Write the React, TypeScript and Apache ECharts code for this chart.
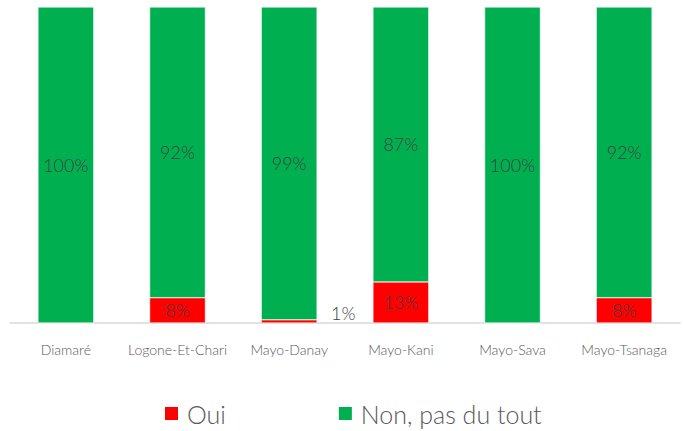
import React, { useEffect, useRef } from "react";
import * as echarts from "echarts";

const categories = ["Diamaré", "Logone-Et-Chari", "Mayo-Danay", "Mayo-Kani", "Mayo-Sava", "Mayo-Tsanaga"];
const ouiValues = [0, 8, 1, 13, 0, 8];
const nonValues = [100, 92, 99, 87, 100, 92];
const seriesNames = ["Oui", "Non, pas du tout"];

const FONT = "Lato, 'Open Sans', sans-serif";

export default function App() {
  const ref = useRef<HTMLDivElement>(null);
  useEffect(() => {
    if (!ref.current) return;
    const chart = echarts.init(ref.current, null, { renderer: "svg" });
    const labelStyle = {
      show: true,
      position: "inside",
      color: "#404040",
      fontFamily: FONT,
      fontSize: 18,
      fontWeight: 300,
      formatter: (p: any) => (p.value > 0 ? p.value + "%" : ""),
    };
    const ouiData = ouiValues.map((v) =>
      v > 0 && v < 3
        ? {
            value: v,
            label: {
              position: "right",
              distance: 14,
              offset: [0, -8],
              color: "#404040",
            },
          }
        : v
    );
    chart.setOption({
      animation: false,
      grid: { left: 10, right: 3, top: 7, bottom: 108, containLabel: false },
      legend: {
        left: 163,
        top: 401,
        padding: 0,
        itemWidth: 15,
        itemHeight: 15,
        itemGap: 111,
        icon: "rect",
        textStyle: { fontFamily: FONT, fontSize: 25, color: "#595959", fontWeight: 300, padding: [0, 0, 0, 3] },
        data: seriesNames,
      },
      xAxis: {
        type: "category",
        data: categories,
        axisLine: { show: true, lineStyle: { color: "#D9D9D9", width: 1.5 } },
        axisTick: { show: false },
        axisLabel: {
          interval: 0,
          color: "#595959",
          fontFamily: FONT,
          fontSize: 14,
          fontWeight: 300,
          margin: 19,
        },
      },
      yAxis: { type: "value", min: 0, max: 100, show: false, splitLine: { show: false } },
      series: [
        {
          name: seriesNames[0],
          type: "bar",
          stack: "total",
          barWidth: "50%",
          data: ouiData,
          itemStyle: { color: "#FF0000", borderColor: "#FFFFFF", borderWidth: 0.5 },
          label: labelStyle,
        },
        {
          name: seriesNames[1],
          type: "bar",
          stack: "total",
          barWidth: "50%",
          data: nonValues,
          itemStyle: { color: "#00B050", borderColor: "#FFFFFF", borderWidth: 0.5 },
          label: labelStyle,
        },
      ],
    });
    return () => chart.dispose();
  }, []);
  return <div ref={ref} style={{ width: 683, height: 431, position: "absolute", left: 0, top: 0 }} />;
}
